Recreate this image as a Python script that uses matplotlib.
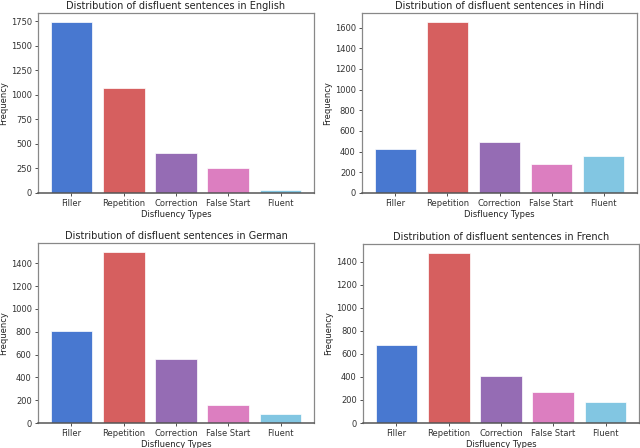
import matplotlib
matplotlib.use("Agg")
import matplotlib.pyplot as plt

categories = ["Filler", "Repetition", "Correction", "False Start", "Fluent"]
english = [1745, 1068, 404, 253, 34]
hindi = [425, 1658, 490, 276, 354]
german = [807, 1503, 561, 161, 76]
french = [680, 1481, 408, 269, 179]
languages = ["English", "Hindi", "German", "French"]
colors = ["#4878d0", "#d65f5f", "#956cb4", "#dc7ec0", "#82c6e2"]

fig = plt.figure(figsize=(6.4, 4.48), dpi=100)
W, H = 640, 448
boxes = [(38, 13, 314, 193), (362, 13, 637, 193), (38, 243, 314, 423), (363, 244, 639, 423)]
data = [english, hindi, german, french]

for (l, t, r, b), vals, lang in zip(boxes, data, languages):
    ax = fig.add_axes([l / W, 1 - b / H, (r - l) / W, (b - t) / H])
    ax.bar(categories, vals, color=colors, width=0.8, edgecolor="white", linewidth=0.5)
    ax.set_title(f"Distribution of disfluent sentences in {lang}", fontsize=7.0, pad=3, color="#222222")
    ax.set_xlabel("Disfluency Types", fontsize=6.0, labelpad=1, color="#222222")
    ax.set_ylabel("Frequency", fontsize=6.0, labelpad=2, color="#222222")
    ax.tick_params(axis="both", labelsize=6.0, length=2.5, width=0.6, pad=2, colors="#333333")
    for s in ax.spines.values():
        s.set_color("#888888")
        s.set_linewidth(0.9)
    ax.spines["bottom"].set_color("#555555")
    ax.spines["bottom"].set_linewidth(1.1)

fig.savefig("out.png", dpi=100)
